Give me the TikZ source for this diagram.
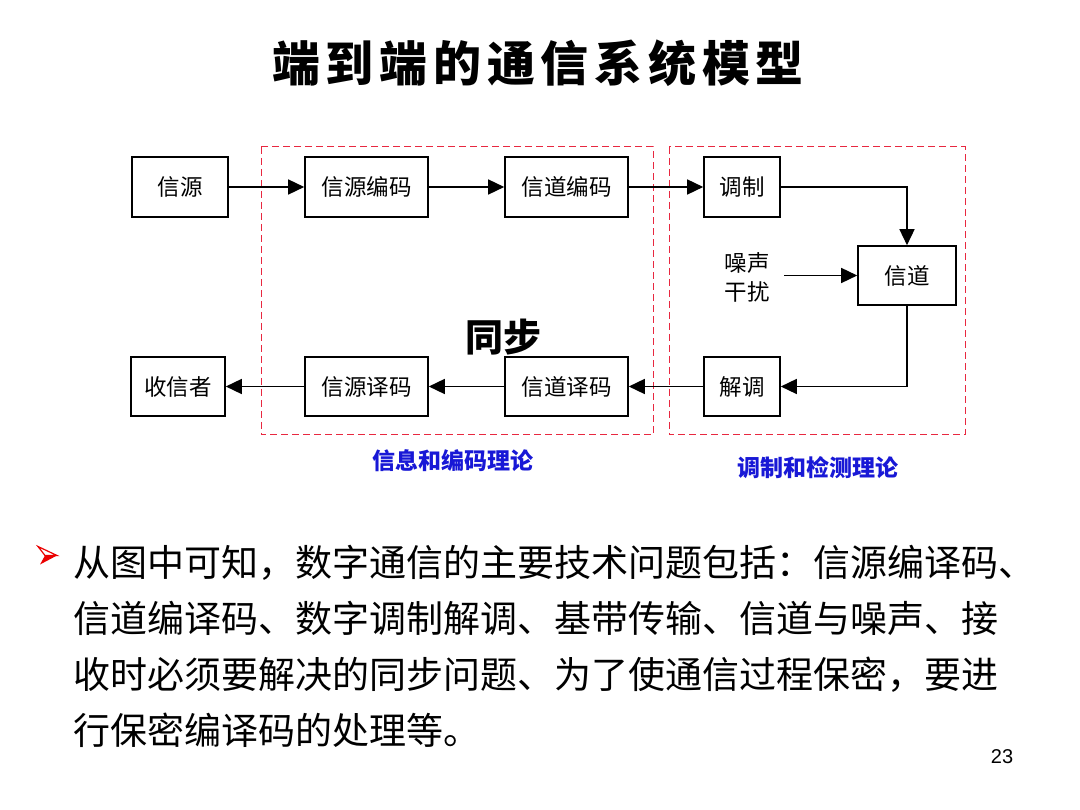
\documentclass[tikz,border=0pt]{standalone}
\usepackage{fontspec}
\usetikzlibrary{arrows.meta}
\newfontfamily\cjk{Noto Sans CJK SC}
\newfontfamily\cjktitle[LetterSpace=12]{Noto Sans CJK SC}
\newfontfamily\arialf{Liberation Sans}
\definecolor{dashred}{RGB}{232,40,64}
\definecolor{labelblue}{RGB}{24,24,214}
\definecolor{bulletred}{RGB}{235,0,0}
\begin{document}
\begin{tikzpicture}[x=1pt,y=-1pt,
  box/.style={draw, line width=1.6pt, minimum height=60pt, inner sep=0pt,
    font=\cjk\fontsize{22.5}{24}\selectfont},
  conn/.style={line width=1.5pt, -{Triangle[length=16pt,width=15pt]}},
  zone/.style={draw=dashred, line width=1pt, dash pattern=on 7pt off 4pt},
  bluelab/.style={text=labelblue, inner sep=0pt, font=\cjk\bfseries\fontsize{23}{26}\selectfont},
  bodyline/.style={anchor=base west, inner sep=0pt, font=\cjk\fontsize{37}{40}\selectfont}]
\useasboundingbox (0,0) rectangle (1080,810);
\fill[white] (0,0) rectangle (1080,810);

% title
\node[inner sep=0pt] (title) at (538,63) {\cjktitle\bfseries\fontsize{48}{52}\selectfont 端到端的通信系统模型};

% zones
\draw[zone] (261,147) rectangle (653,435);
\draw[zone] (669,147) rectangle (965,435);

% boxes
\node[box, minimum width=96pt]  (src)   at (180,187)   {信源};
\node[box, minimum width=123pt] (senc)  at (366.5,187) {信源编码};
\node[box, minimum width=123pt] (cenc)  at (566.5,187) {信道编码};
\node[box, minimum width=76pt]  (mod)   at (742,187)   {调制};
\node[box, minimum width=98pt, minimum height=59pt] (chan) at (907,275.5) {信道};
\node[box, minimum width=76pt, minimum height=59pt]  (demod) at (742,386.5) {解调};
\node[box, minimum width=123pt, minimum height=59pt] (cdec)  at (566.5,386.5) {信道译码};
\node[box, minimum width=123pt, minimum height=59pt] (sdec)  at (366.5,386.5) {信源译码};
\node[box, minimum width=94pt, minimum height=59pt]  (sink)  at (178,386.5) {收信者};

\node[inner sep=0pt, align=center, font=\cjk\fontsize{22.5}{29}\selectfont] (noise) at (747,277.5) {噪声\\干扰};
\coordinate (nstart) at (784,275.5);

% connectors
\draw[conn] (src) -- (senc);
\draw[conn] (senc) -- (cenc);
\draw[conn] (cenc) -- (mod);
\draw[conn] (mod.east) -| (chan.north);
\draw[conn] (nstart) -- (chan.west);
\draw[conn] (chan.south) |- (demod.east);
\draw[conn] (demod) -- (cdec);
\draw[conn] (cdec) -- (sdec);
\draw[conn] (sdec) -- (sink);

% labels
\node[inner sep=0pt, font=\cjk\bfseries\fontsize{38}{40}\selectfont] (sync) at (503,337) {同步};
\node[bluelab] (lab1) at (453,461) {信息和编码理论};
\node[bluelab] (lab2) at (818,468) {调制和检测理论};

% bullet
\fill[bulletred] (45,555.5) -- (57,555.5) -- (40,564.5) -- cycle;
\filldraw[fill=white, draw=bulletred, line width=1.2pt, line join=miter] (38,546.5) -- (57,555.5) -- (45,555.5) -- cycle;

% body text
\node[bodyline] (l1) at (73,576) {从图中可知，数字通信的主要技术问题包括：信源编译码、};
\node[bodyline] (l2) at (73,632) {信道编译码、数字调制解调、基带传输、信道与噪声、接};
\node[bodyline] (l3) at (73,688) {收时必须要解决的同步问题、为了使通信过程保密，要进};
\node[bodyline] (l4) at (73,744) {行保密编译码的处理等。};

\node[inner sep=0pt, font=\arialf\fontsize{20}{22}\selectfont] (pg) at (1002,757) {23};
\end{tikzpicture}
\end{document}
